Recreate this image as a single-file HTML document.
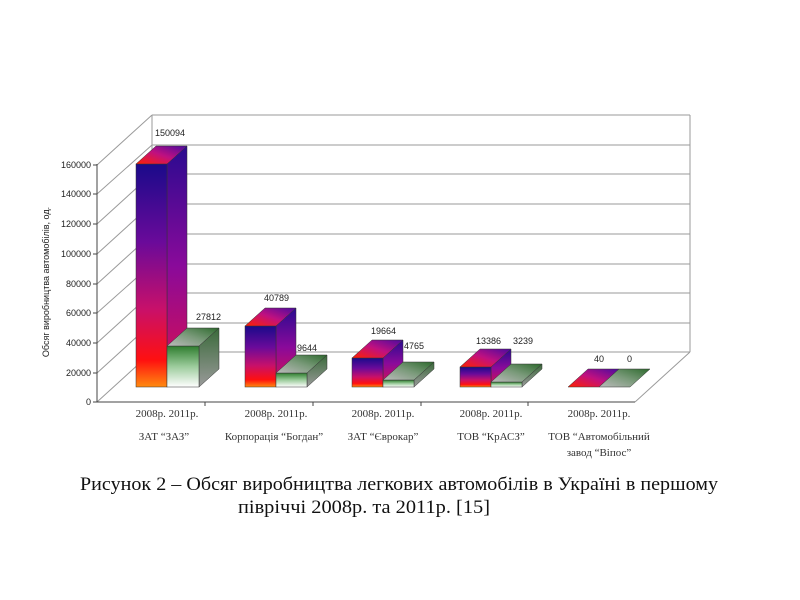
<!DOCTYPE html>
<html><head><meta charset="utf-8"><style>
html,body{margin:0;padding:0;background:#fff;}
svg{display:block;}
.a{font-family:"Liberation Sans",sans-serif;font-size:9px;fill:#222;}
.s{font-family:"Liberation Serif",serif;font-size:11px;fill:#333;}
.c{font-family:"Liberation Serif",serif;font-size:19px;fill:#111;}
</style></head><body>
<svg width="800" height="600" viewBox="0 0 800 600" xmlns="http://www.w3.org/2000/svg">
<defs>
<linearGradient id="f8" x1="0" y1="0" x2="0" y2="1">
<stop offset="0" stop-color="#1a0a8a"/><stop offset="0.35" stop-color="#6a0a9a"/><stop offset="0.65" stop-color="#c8106a"/><stop offset="0.88" stop-color="#ff1010"/><stop offset="1" stop-color="#ff8a10"/></linearGradient>
<linearGradient id="s8" x1="0" y1="0" x2="0" y2="1">
<stop offset="0" stop-color="#2a0a90"/><stop offset="0.5" stop-color="#8a0a9a"/><stop offset="1" stop-color="#e0104a"/></linearGradient>
<linearGradient id="t8" x1="0" y1="1" x2="1" y2="0">
<stop offset="0" stop-color="#ff2000"/><stop offset="0.5" stop-color="#c01080"/><stop offset="1" stop-color="#4a0aa0"/></linearGradient>
<linearGradient id="f1" x1="0" y1="0" x2="0" y2="1">
<stop offset="0" stop-color="#2e7d2e"/><stop offset="0.5" stop-color="#9ccc9c"/><stop offset="1" stop-color="#ffffff"/></linearGradient>
<linearGradient id="s1" x1="0" y1="0" x2="0" y2="1">
<stop offset="0" stop-color="#3a6a3a"/><stop offset="1" stop-color="#9a9a9a"/></linearGradient>
<linearGradient id="t1" x1="0" y1="1" x2="1" y2="0">
<stop offset="0" stop-color="#bbbbbb"/><stop offset="0.5" stop-color="#7a9a7a"/><stop offset="1" stop-color="#2e6a2e"/></linearGradient>
</defs>
<!-- walls -->
<g stroke="#9a9a9a" stroke-width="1" fill="none">
<line x1="152" y1="115" x2="690" y2="115"/>
<line x1="152" y1="145" x2="690" y2="145"/>
<line x1="152" y1="174" x2="690" y2="174"/>
<line x1="152" y1="204" x2="690" y2="204"/>
<line x1="152" y1="234" x2="690" y2="234"/>
<line x1="152" y1="264" x2="690" y2="264"/>
<line x1="152" y1="293" x2="690" y2="293"/>
<line x1="152" y1="323" x2="690" y2="323"/>
<line x1="152" y1="352" x2="690" y2="352"/>
<line x1="152" y1="115" x2="152" y2="352"/>
<line x1="690" y1="115" x2="690" y2="352"/>
<line x1="690" y1="352" x2="635" y2="402"/>
<line x1="97" y1="165" x2="152" y2="115"/>
<line x1="97" y1="194" x2="152" y2="145"/>
<line x1="97" y1="224" x2="152" y2="174"/>
<line x1="97" y1="254" x2="152" y2="204"/>
<line x1="97" y1="284" x2="152" y2="234"/>
<line x1="97" y1="313" x2="152" y2="264"/>
<line x1="97" y1="343" x2="152" y2="293"/>
<line x1="97" y1="373" x2="152" y2="323"/>
<line x1="97" y1="402" x2="152" y2="352"/>
</g>
<g stroke="#444" stroke-width="1">
<line x1="97" y1="164" x2="97" y2="402"/>
<line x1="97" y1="402" x2="635" y2="402"/>
<line x1="93" y1="165" x2="97" y2="165"/><line x1="93" y1="194" x2="97" y2="194"/><line x1="93" y1="224" x2="97" y2="224"/><line x1="93" y1="254" x2="97" y2="254"/><line x1="93" y1="284" x2="97" y2="284"/><line x1="93" y1="313" x2="97" y2="313"/><line x1="93" y1="343" x2="97" y2="343"/><line x1="93" y1="373" x2="97" y2="373"/><line x1="93" y1="402" x2="97" y2="402"/>
<line x1="205" y1="402" x2="205" y2="406"/><line x1="313" y1="402" x2="313" y2="406"/><line x1="421" y1="402" x2="421" y2="406"/><line x1="528" y1="402" x2="528" y2="406"/>
</g>
<g class="a" text-anchor="end">
<text x="91" y="168">160000</text><text x="91" y="197">140000</text><text x="91" y="227">120000</text><text x="91" y="257">100000</text><text x="91" y="287">80000</text><text x="91" y="316">60000</text><text x="91" y="346">40000</text><text x="91" y="376">20000</text><text x="91" y="405">0</text>
</g>
<text class="a" transform="translate(49,282) rotate(-90)" text-anchor="middle" font-size="10">Обсяг виробництва автомобілів, од.</text>
<!-- bars -->
<g stroke="#333" stroke-width="0.5">
<!-- ZAZ -->
<polygon points="167,164 187,146 187,369 167,387" fill="url(#s8)"/><rect x="136" y="164" width="31" height="223" fill="url(#f8)"/><polygon points="136,164 156,146 187,146 167,164" fill="url(#t8)"/>
<polygon points="199,346 219,328 219,369 199,387" fill="url(#s1)"/><rect x="167" y="346" width="32" height="41" fill="url(#f1)"/><polygon points="167,346 187,328 219,328 199,346" fill="url(#t1)"/>
<!-- Bogdan -->
<polygon points="276,326 296,308 296,369 276,387" fill="url(#s8)"/><rect x="245" y="326" width="31" height="61" fill="url(#f8)"/><polygon points="245,326 265,308 296,308 276,326" fill="url(#t8)"/>
<polygon points="307,373 327,355 327,369 307,387" fill="url(#s1)"/><rect x="276" y="373" width="31" height="14" fill="url(#f1)"/><polygon points="276,373 296,355 327,355 307,373" fill="url(#t1)"/>
<!-- Eurocar -->
<polygon points="383,358 403,340 403,369 383,387" fill="url(#s8)"/><rect x="352" y="358" width="31" height="29" fill="url(#f8)"/><polygon points="352,358 372,340 403,340 383,358" fill="url(#t8)"/>
<polygon points="414,380 434,362 434,369 414,387" fill="url(#s1)"/><rect x="383" y="380" width="31" height="7" fill="url(#f1)"/><polygon points="383,380 403,362 434,362 414,380" fill="url(#t1)"/>
<!-- KrAS -->
<polygon points="491,367 511,349 511,369 491,387" fill="url(#s8)"/><rect x="460" y="367" width="31" height="20" fill="url(#f8)"/><polygon points="460,367 480,349 511,349 491,367" fill="url(#t8)"/>
<polygon points="522,382 542,364 542,369 522,387" fill="url(#s1)"/><rect x="491" y="382" width="31" height="5" fill="url(#f1)"/><polygon points="491,382 511,364 542,364 522,382" fill="url(#t1)"/>
<!-- Vipos -->
<polygon points="568,387 588,369 619,369 599,387" fill="url(#t8)"/>
<polygon points="599,387 619,369 650,369 630,387" fill="url(#t1)"/>
</g>
<g class="a">
<text x="155" y="136">150094</text><text x="196" y="320">27812</text>
<text x="264" y="301">40789</text><text x="297" y="351">9644</text>
<text x="371" y="334">19664</text><text x="404" y="349">4765</text>
<text x="476" y="344">13386</text><text x="513" y="344">3239</text>
<text x="594" y="362">40</text><text x="627" y="362">0</text>
</g>
<g class="s" text-anchor="middle">
<text x="167" y="417">2008р.  2011р.</text><text x="276" y="417">2008р.  2011р.</text><text x="383" y="417">2008р.  2011р.</text><text x="491" y="417">2008р.  2011р.</text><text x="599" y="417">2008р.  2011р.</text>
<text x="164" y="440">ЗАТ “ЗАЗ”</text><text x="274" y="440">Корпорація “Богдан”</text><text x="383" y="440">ЗАТ “Єврокар”</text><text x="491" y="440">ТОВ “КрАСЗ”</text><text x="599" y="440">ТОВ “Автомобільний</text><text x="599" y="456">завод “Віпос”</text>
</g>
<text class="c" x="80" y="490" textLength="638" lengthAdjust="spacingAndGlyphs">Рисунок 2 – Обсяг виробництва легкових автомобілів в Україні в першому</text>
<text class="c" x="238" y="513" textLength="252" lengthAdjust="spacingAndGlyphs">півріччі 2008р. та 2011р. [15]</text>
</svg>
</body></html>
